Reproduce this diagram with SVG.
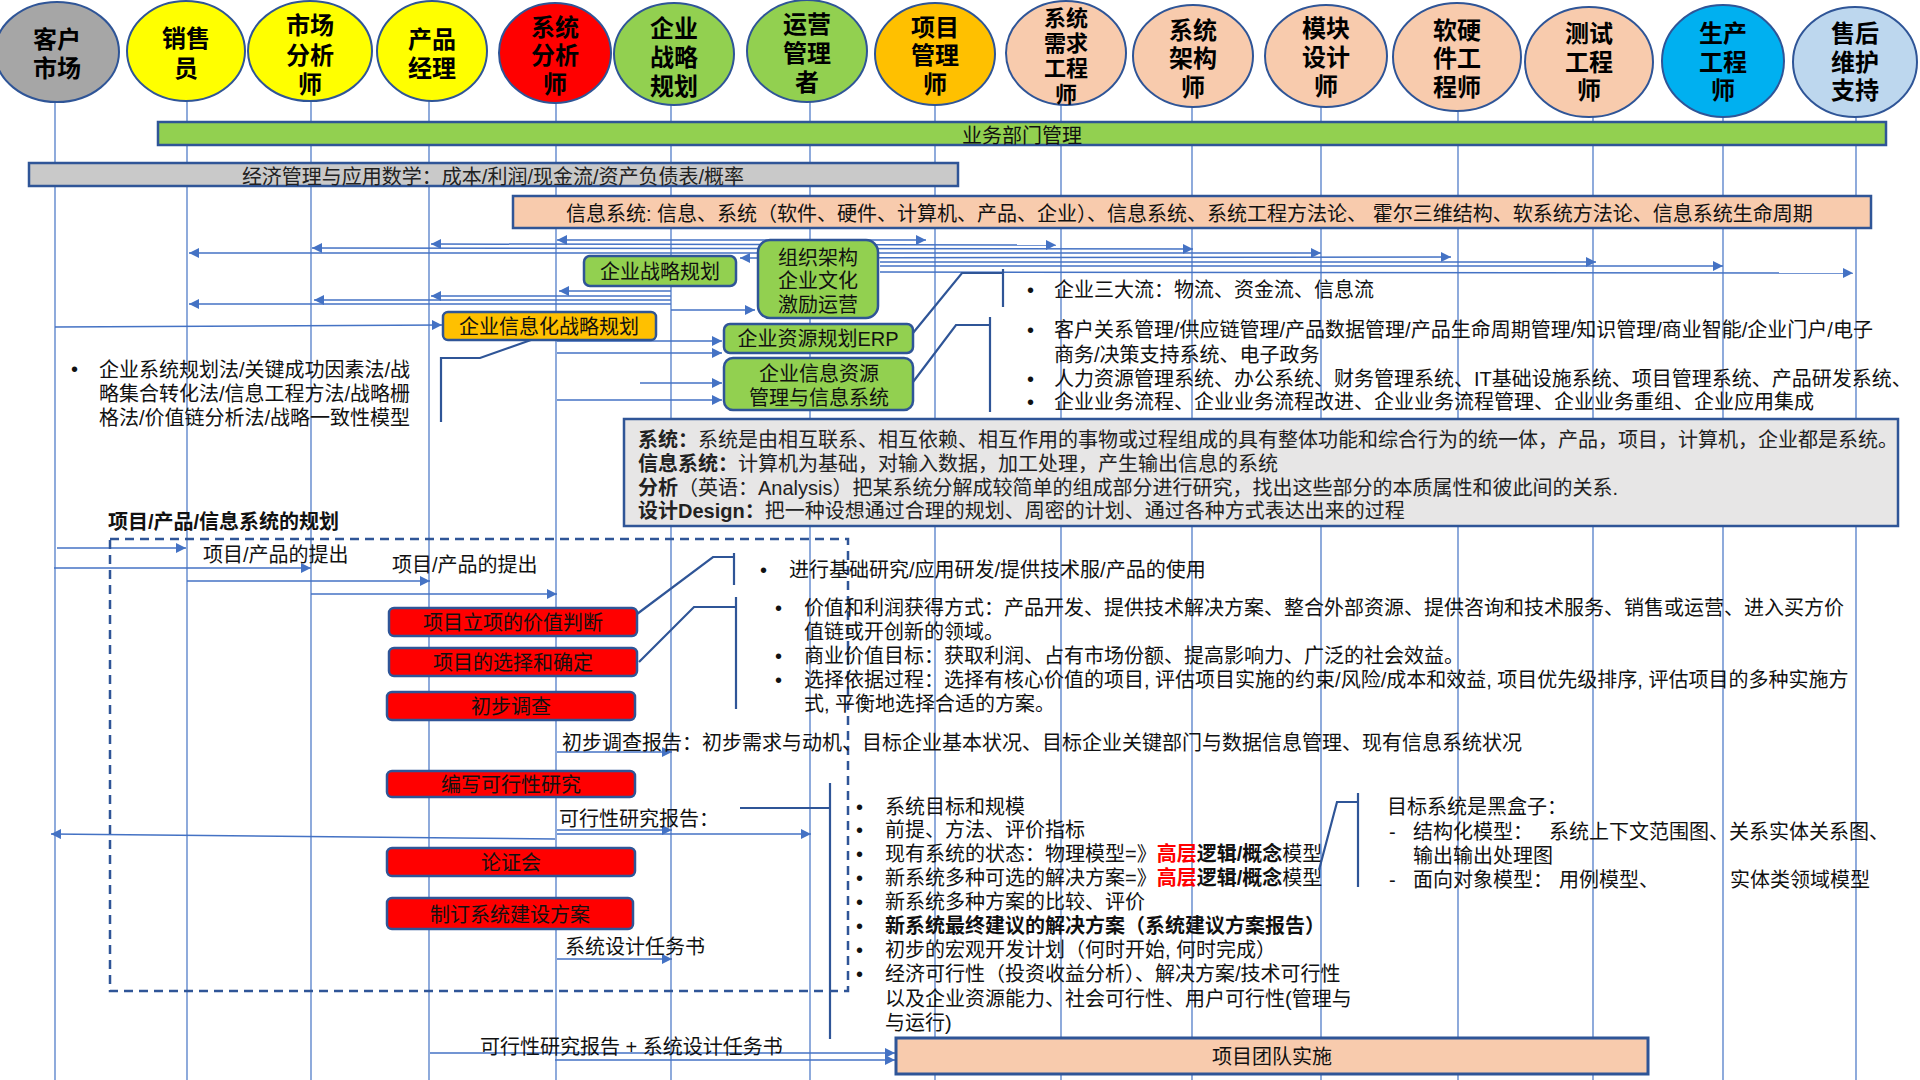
<svg xmlns="http://www.w3.org/2000/svg" width="1920" height="1080" viewBox="0 0 1920 1080">
<defs>
<marker id="ah" viewBox="0 0 10 10" refX="10" refY="5" markerWidth="10" markerHeight="10" markerUnits="userSpaceOnUse" orient="auto-start-reverse"><path d="M0,0 L10,5 L0,10 z" fill="#4472C4"/></marker>
<style>
text{font-family:"Liberation Sans","Noto Sans CJK SC",sans-serif;font-size:20px;fill:#111;dominant-baseline:central}
tspan{dominant-baseline:central}
text:not(.et){transform:translate(0px,2px)}
.el{stroke:#2F5597;stroke-width:2}
.et{font-size:24px;font-weight:bold;text-anchor:middle;fill:#000}
.et22{font-size:22px}
.life{stroke:#4472C4;stroke-width:1.2;fill:none}
.ar{stroke:#4472C4;stroke-width:1.5;fill:none;marker-end:url(#ah)}
.ar2{stroke:#4472C4;stroke-width:1.5;fill:none;marker-end:url(#ah);marker-start:url(#ah)}
.box{stroke:#2F5597;stroke-width:2.5}
.c{text-anchor:middle}
.co{stroke:#2F5597;stroke-width:2.2;fill:none}
.b{font-weight:bold}
.red{fill:#FF0000;font-weight:bold}
.g{fill:#222}
</style>
</defs>
<rect width="1920" height="1080" fill="#fff"/>

<g id="lifelines">
<line class="life" x1="55" y1="102" x2="55" y2="1080"/>
<line class="life" x1="187" y1="101" x2="187" y2="1080"/>
<line class="life" x1="311" y1="101" x2="311" y2="1080"/>
<line class="life" x1="429" y1="101" x2="429" y2="1080"/>
<line class="life" x1="556" y1="103" x2="556" y2="1080"/>
<line class="life" x1="671" y1="105" x2="671" y2="1080"/>
<line class="life" x1="810" y1="102" x2="810" y2="1080"/>
<line class="life" x1="935" y1="105" x2="935" y2="1080"/>
<line class="life" x1="1061" y1="105" x2="1061" y2="1080"/>
<line class="life" x1="1192" y1="107" x2="1192" y2="1080"/>
<line class="life" x1="1321" y1="107" x2="1321" y2="1080"/>
<line class="life" x1="1458" y1="111" x2="1458" y2="1080"/>
<line class="life" x1="1593" y1="117" x2="1593" y2="1080"/>
<line class="life" x1="1723" y1="117" x2="1723" y2="1080"/>
<line class="life" x1="1856" y1="117" x2="1856" y2="1080"/>
</g>

<g id="n-kehu"><ellipse class="el" cx="57" cy="52" rx="62" ry="50" fill="#A6A6A6"/><text class="et"><tspan x="57" y="39">客户</tspan><tspan x="57" y="68">市场</tspan></text></g>
<g id="n-xiaoshou"><ellipse class="el" cx="186" cy="51" rx="59" ry="50" fill="#FFFF00"/><text class="et"><tspan x="186" y="38">销售</tspan><tspan x="186" y="68">员</tspan></text></g>
<g id="n-shichang"><ellipse class="el" cx="310" cy="51" rx="62" ry="50" fill="#FFFF00"/><text class="et"><tspan x="310" y="25">市场</tspan><tspan x="310" y="55">分析</tspan><tspan x="310" y="84">师</tspan></text></g>
<g id="n-chanpin"><ellipse class="el" cx="432" cy="51" rx="55" ry="50" fill="#FFFF00"/><text class="et"><tspan x="432" y="39">产品</tspan><tspan x="432" y="68">经理</tspan></text></g>
<g id="n-xitongfenxi"><ellipse class="el" cx="555" cy="53" rx="56" ry="50" fill="#FF0000"/><text class="et"><tspan x="555" y="27">系统</tspan><tspan x="555" y="55">分析</tspan><tspan x="555" y="84">师</tspan></text></g>
<g id="n-zhanlue"><ellipse class="el" cx="674" cy="54" rx="60" ry="51" fill="#92D050"/><text class="et"><tspan x="674" y="28">企业</tspan><tspan x="674" y="57">战略</tspan><tspan x="674" y="86">规划</tspan></text></g>
<g id="n-yunying"><ellipse class="el" cx="807" cy="51" rx="60" ry="51" fill="#92D050"/><text class="et"><tspan x="807" y="24">运营</tspan><tspan x="807" y="53">管理</tspan><tspan x="807" y="82">者</tspan></text></g>
<g id="n-xiangmu"><ellipse class="el" cx="935" cy="54" rx="60" ry="51" fill="#FFC000"/><text class="et"><tspan x="935" y="27">项目</tspan><tspan x="935" y="55">管理</tspan><tspan x="935" y="84">师</tspan></text></g>
<g id="n-xuqiu"><ellipse class="el" cx="1066" cy="53" rx="60" ry="52" fill="#F8CBAD"/><text class="et et22"><tspan x="1066" y="18">系统</tspan><tspan x="1066" y="43">需求</tspan><tspan x="1066" y="68">工程</tspan><tspan x="1066" y="94">师</tspan></text></g>
<g id="n-jiagou"><ellipse class="el" cx="1193" cy="56" rx="60" ry="51" fill="#F8CBAD"/><text class="et"><tspan x="1193" y="30">系统</tspan><tspan x="1193" y="58">架构</tspan><tspan x="1193" y="87">师</tspan></text></g>
<g id="n-mokuai"><ellipse class="el" cx="1326" cy="56" rx="61" ry="51" fill="#F8CBAD"/><text class="et"><tspan x="1326" y="28">模块</tspan><tspan x="1326" y="57">设计</tspan><tspan x="1326" y="86">师</tspan></text></g>
<g id="n-ruanyingjian"><ellipse class="el" cx="1457" cy="57" rx="64" ry="54" fill="#F8CBAD"/><text class="et"><tspan x="1457" y="30">软硬</tspan><tspan x="1457" y="58">件工</tspan><tspan x="1457" y="87">程师</tspan></text></g>
<g id="n-ceshi"><ellipse class="el" cx="1589" cy="62" rx="64" ry="55" fill="#F8CBAD"/><text class="et"><tspan x="1589" y="33">测试</tspan><tspan x="1589" y="62">工程</tspan><tspan x="1589" y="90">师</tspan></text></g>
<g id="n-shengchan"><ellipse class="el" cx="1723" cy="61" rx="61" ry="56" fill="#00B0F0"/><text class="et"><tspan x="1723" y="33">生产</tspan><tspan x="1723" y="62">工程</tspan><tspan x="1723" y="90">师</tspan></text></g>
<g id="n-shouhou"><ellipse class="el" cx="1855" cy="62" rx="62" ry="55" fill="#BDD7EE"/><text class="et"><tspan x="1855" y="33">售后</tspan><tspan x="1855" y="62">维护</tspan><tspan x="1855" y="90">支持</tspan></text></g>

<g id="bar-yewu"><rect class="box" x="158" y="122" width="1728" height="23" fill="#92D050"/><text class="c" x="1022" y="134">业务部门管理</text></g>
<g id="bar-jingji"><rect class="box" x="29" y="163" width="929" height="23" fill="#C9C9C9"/><text class="c g" x="493" y="175">经济管理与应用数学：成本/利润/现金流/资产负债表/概率</text></g>
<g id="bar-xinxi"><rect class="box" x="513" y="196" width="1358" height="32" fill="#F8CBAD"/><text x="566" y="212">信息系统: 信息、系统（软件、硬件、计算机、产品、企业）、信息系统、系统工程方法论、 霍尔三维结构、软系统方法论、信息系统生命周期</text></g>

<g id="connectors">
<line class="ar2" x1="557" y1="240" x2="926" y2="240"/>
<line class="ar2" x1="431" y1="244" x2="1056" y2="245"/>
<line class="ar2" x1="312" y1="248" x2="1193" y2="249"/>
<line class="ar2" x1="189" y1="253" x2="1321" y2="253"/>
<line class="ar2" x1="740" y1="258" x2="1451" y2="257"/>
<line class="ar" x1="880" y1="262" x2="1596" y2="262"/>
<line class="ar" x1="880" y1="266" x2="1723" y2="266"/>
<line class="ar" x1="880" y1="272" x2="1853" y2="273"/>
<line class="ar" x1="671" y1="291" x2="559" y2="291"/>
<line class="ar" x1="671" y1="296" x2="431" y2="296"/>
<line class="ar" x1="671" y1="300" x2="314" y2="300"/>
<line class="ar" x1="671" y1="304" x2="189" y2="304"/>
<line class="ar" x1="671" y1="310" x2="755" y2="310"/>
<line class="ar" x1="55" y1="327" x2="442" y2="325"/>
<line class="ar" x1="557" y1="341" x2="722" y2="341"/>
<line class="ar" x1="557" y1="353" x2="722" y2="353"/>
<line class="ar" x1="640" y1="383" x2="722" y2="383"/>
<line class="ar" x1="557" y1="400" x2="722" y2="400"/>
<line class="ar" x1="57" y1="548" x2="186" y2="548"/>
<line class="ar" x1="54" y1="568" x2="311" y2="568"/>
<line class="ar" x1="187" y1="581" x2="430" y2="581"/>
<line class="ar" x1="311" y1="594" x2="557" y2="594"/>
<line class="ar" x1="557" y1="752" x2="672" y2="752"/>
<line class="ar" x1="557" y1="830" x2="672" y2="830"/>
<line class="ar" x1="557" y1="834" x2="811" y2="834"/>
<line class="ar" x1="555" y1="839" x2="51" y2="834"/>
<line class="ar" x1="557" y1="959" x2="672" y2="959"/>
<line class="ar" x1="430" y1="1053" x2="895" y2="1053"/>
<line class="ar" x1="555" y1="1060" x2="895" y2="1060"/>
</g>

<g id="n-qiyezhanlue"><rect class="box" x="584" y="256" width="152" height="30" rx="6" fill="#92D050"/><text class="c" x="660" y="270">企业战略规划</text></g>
<g id="n-zuzhi"><rect class="box" x="758" y="240" width="120" height="78" rx="12" fill="#92D050"/><text class="c"><tspan x="818" y="256">组织架构</tspan><tspan x="818" y="279">企业文化</tspan><tspan x="818" y="303">激励运营</tspan></text></g>
<g id="n-xinxihua"><rect class="box" x="443" y="312" width="213" height="28" rx="5" fill="#FFC000"/><text class="c" x="549" y="325">企业信息化战略规划</text></g>
<g id="n-erp"><rect class="box" x="724" y="324" width="189" height="29" rx="6" fill="#92D050"/><text class="c" x="818" y="337">企业资源规划ERP</text></g>
<g id="n-xinxiziyuan"><rect class="box" x="724" y="358" width="189" height="52" rx="9" fill="#92D050"/><text class="c"><tspan x="819" y="372">企业信息资源</tspan><tspan x="819" y="396">管理与信息系统</tspan></text></g>

<g id="t-left">
<text><tspan x="71" y="367">•</tspan><tspan x="99" y="368">企业系统规划法/关键成功因素法/战</tspan><tspan x="99" y="392">略集合转化法/信息工程方法/战略栅</tspan><tspan x="99" y="416">格法/价值链分析法/战略一致性模型</tspan></text>
</g>

<g id="t-right-top">
<text><tspan x="1027" y="288">•</tspan><tspan x="1054" y="288">企业三大流：物流、资金流、信息流</tspan><tspan x="1027" y="328">•</tspan><tspan x="1054" y="328">客户关系管理/供应链管理/产品数据管理/产品生命周期管理/知识管理/商业智能/企业门户/电子</tspan><tspan x="1054" y="353">商务/决策支持系统、电子政务</tspan><tspan x="1027" y="377">•</tspan><tspan x="1054" y="377">人力资源管理系统、办公系统、财务管理系统、IT基础设施系统、项目管理系统、产品研发系统、</tspan><tspan x="1027" y="400">•</tspan><tspan x="1054" y="400">企业业务流程、企业业务流程改进、企业业务流程管理、企业业务重组、企业应用集成</tspan></text>
</g>

<g id="n-definitions">
<rect class="box" x="624" y="419" width="1274" height="107" fill="#E7E6E6"/>
<text class="g"><tspan x="638" y="438" class="b">系统：</tspan><tspan>系统是由相互联系、相互依赖、相互作用的事物或过程组成的具有整体功能和综合行为的统一体，产品，项目，计算机，企业都是系统。</tspan><tspan x="638" y="462" class="b">信息系统：</tspan><tspan>计算机为基础，对输入数据，加工处理，产生输出信息的系统</tspan><tspan x="638" y="486" class="b">分析</tspan><tspan>（英语：Analysis）把某系统分解成较简单的组成部分进行研究，找出这些部分的本质属性和彼此间的关系.</tspan><tspan x="638" y="509" class="b">设计Design：</tspan><tspan>把一种设想通过合理的规划、周密的计划、通过各种方式表达出来的过程</tspan></text>
</g>

<g id="g-planning">
<rect x="110" y="539" width="738" height="452" fill="none" stroke="#2F5597" stroke-width="2.5" stroke-dasharray="9 6"/>
<text class="b" x="108" y="520">项目/产品/信息系统的规划</text>
<text x="203" y="553">项目/产品的提出</text>
<text x="392" y="563">项目/产品的提出</text>
</g>

<g id="n-r1"><rect class="box" x="389" y="608" width="248" height="28" rx="5" fill="#FF0000"/><text class="c" x="513" y="621">项目立项的价值判断</text></g>
<g id="n-r2"><rect class="box" x="389" y="648" width="248" height="28" rx="5" fill="#FF0000"/><text class="c" x="513" y="661">项目的选择和确定</text></g>
<g id="n-r3"><rect class="box" x="387" y="692" width="248" height="28" rx="5" fill="#FF0000"/><text class="c" x="511" y="705">初步调查</text></g>
<g id="n-r4"><rect class="box" x="387" y="771" width="248" height="26" rx="5" fill="#FF0000"/><text class="c" x="511" y="783">编写可行性研究</text></g>
<g id="n-r5"><rect class="box" x="387" y="848" width="248" height="28" rx="5" fill="#FF0000"/><text class="c" x="511" y="861">论证会</text></g>
<g id="n-r6"><rect class="box" x="387" y="898" width="246" height="31" rx="5" fill="#FF0000"/><text class="c" x="510" y="913">制订系统建设方案</text></g>

<g id="t-mid">
<text><tspan x="760" y="568">•</tspan><tspan x="789" y="568">进行基础研究/应用研发/提供技术服/产品的使用</tspan></text>
<text><tspan x="775" y="606">•</tspan><tspan x="804" y="606">价值和利润获得方式：产品开发、提供技术解决方案、整合外部资源、提供咨询和技术服务、销售或运营、进入买方价</tspan><tspan x="804" y="630">值链或开创新的领域。</tspan><tspan x="775" y="654">•</tspan><tspan x="804" y="654">商业价值目标：获取利润、占有市场份额、提高影响力、广泛的社会效益。</tspan><tspan x="775" y="678">•</tspan><tspan x="804" y="678">选择依据过程：选择有核心价值的项目, 评估项目实施的约束/风险/成本和效益, 项目优先级排序, 评估项目的多种实施方</tspan><tspan x="804" y="702">式, 平衡地选择合适的方案。</tspan></text>
<text x="562" y="741">初步调查报告：初步需求与动机、目标企业基本状况、目标企业关键部门与数据信息管理、现有信息系统状况</text>
<text x="559" y="817">可行性研究报告：</text>
<text x="565" y="945">系统设计任务书</text>
<text x="480" y="1045">可行性研究报告 + 系统设计任务书</text>
</g>

<g id="t-feasibility">
<text><tspan x="856" y="805">•</tspan><tspan x="885" y="805">系统目标和规模</tspan><tspan x="856" y="828">•</tspan><tspan x="885" y="828">前提、方法、评价指标</tspan><tspan x="856" y="852">•</tspan><tspan x="885" y="852">现有系统的状态：物理模型=》</tspan><tspan class="red">高层</tspan><tspan class="b">逻辑/概念</tspan><tspan>模型</tspan><tspan x="856" y="876">•</tspan><tspan x="885" y="876">新系统多种可选的解决方案=》</tspan><tspan class="red">高层</tspan><tspan class="b">逻辑/概念</tspan><tspan>模型</tspan><tspan x="856" y="900">•</tspan><tspan x="885" y="900">新系统多种方案的比较、评价</tspan><tspan x="856" y="924">•</tspan><tspan x="885" y="924" class="b">新系统最终建议的解决方案（系统建议方案报告）</tspan><tspan x="856" y="948">•</tspan><tspan x="885" y="948">初步的宏观开发计划（何时开始, 何时完成）</tspan><tspan x="856" y="972">•</tspan><tspan x="885" y="972">经济可行性（投资收益分析）、解决方案/技术可行性</tspan><tspan x="885" y="997">以及企业资源能力、社会可行性、用户可行性(管理与</tspan><tspan x="885" y="1021">与运行)</tspan></text>
</g>

<g id="t-blackbox">
<text><tspan x="1387" y="805">目标系统是黑盒子：</tspan><tspan x="1389" y="830">-</tspan><tspan x="1413" y="830">结构化模型：</tspan><tspan x="1549" y="830">系统上下文范围图、关系实体关系图、</tspan><tspan x="1413" y="854">输出输出处理图</tspan><tspan x="1389" y="878">-</tspan><tspan x="1413" y="878">面向对象模型：</tspan><tspan x="1559" y="878">用例模型、</tspan><tspan x="1730" y="878">实体类领域模型</tspan></text>
</g>

<g id="n-team"><rect x="896" y="1038" width="752" height="36" fill="#F8CBAD" stroke="#2F5597" stroke-width="3"/><text class="c" x="1272" y="1055">项目团队实施</text></g>

<g id="callouts">
<polyline class="co" points="531,340 480,358 441,358 441,422"/>
<polyline class="co" points="913,333 962,273 1003,273"/>
<line class="co" x1="1003" y1="269" x2="1003" y2="307"/>
<polyline class="co" points="913,382 956,325 990,325"/>
<line class="co" x1="990" y1="317" x2="990" y2="412"/>
<polyline class="co" points="637,614 713,557 734,557"/>
<line class="co" x1="734" y1="553" x2="734" y2="585"/>
<polyline class="co" points="639,662 694,607 736,607"/>
<line class="co" x1="736" y1="597" x2="736" y2="709"/>
<line class="co" x1="740" y1="808" x2="830" y2="808"/>
<line class="co" x1="830" y1="783" x2="830" y2="1039"/>
<polyline class="co" points="1319,870 1337,802 1358,802"/>
<line class="co" x1="1358" y1="793" x2="1358" y2="887"/>
</g>
</svg>
